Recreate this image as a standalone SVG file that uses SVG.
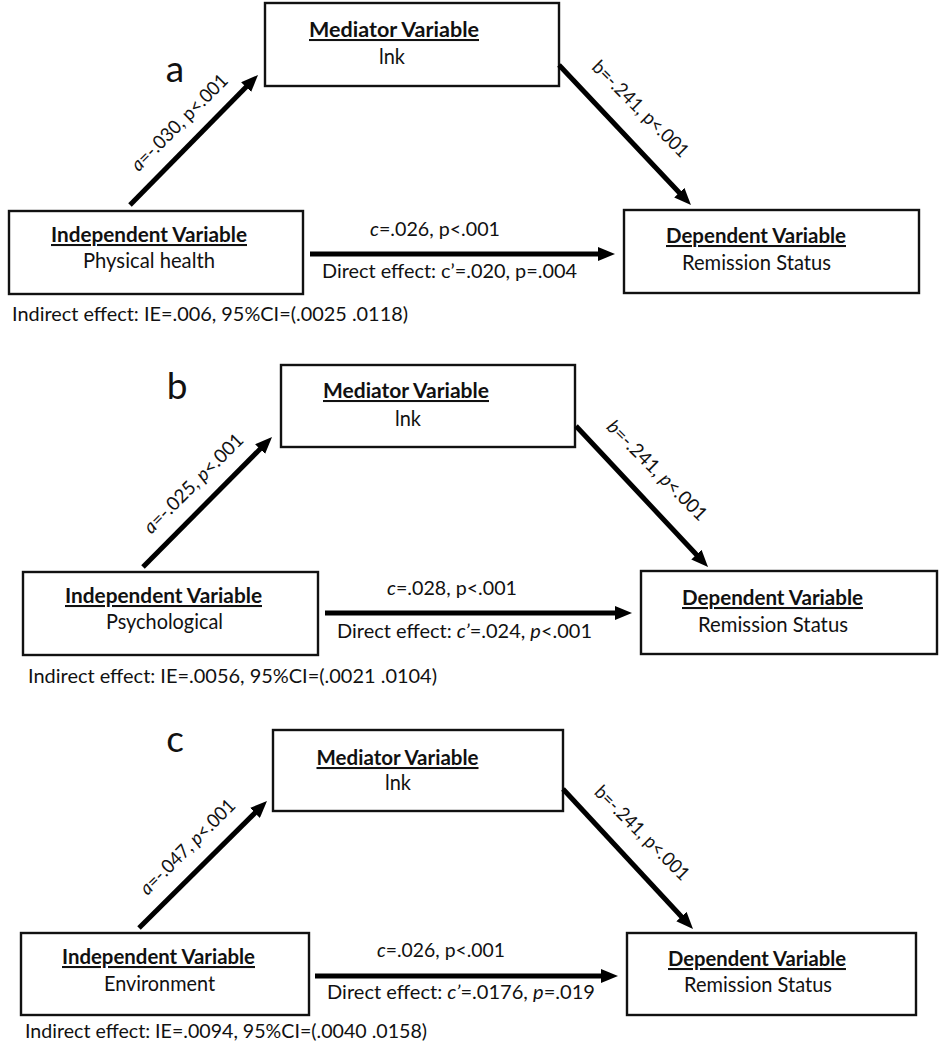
<svg xmlns="http://www.w3.org/2000/svg" width="943" height="1050" viewBox="0 0 943 1050">
<style>
text{font-family:Lato,"Liberation Sans",sans-serif;fill:#111}
.box{fill:#fff;stroke:#111;stroke-width:2.4}
.hd{font-weight:bold;text-decoration:underline;font-size:20.5px}
.nm{font-size:20.5px}
.ed{font-size:19px}
.pn{font-size:37px}
.it{font-style:italic}
.ar{stroke:#000;stroke-width:5;fill:none;marker-end:url(#ah)}
</style>
<defs>
<marker id="ah" markerUnits="userSpaceOnUse" markerWidth="18" markerHeight="14" refX="7" refY="7" orient="auto"><path d="M0,0 L17,7 L0,14 z" fill="#000"/></marker>
</defs>
<rect width="943" height="1050" fill="#fff"/>

<!-- Panel a -->
<g id="panel-a">
<text class="pn" x="175" y="82" text-anchor="middle">a</text>
<g id="a-mediator"><rect class="box" x="265" y="3" width="294" height="83"/>
<text class="hd" x="394" y="37" text-anchor="middle" textLength="170" lengthAdjust="spacingAndGlyphs">Mediator Variable</text>
<text class="nm" x="392" y="64" text-anchor="middle" textLength="26" lengthAdjust="spacingAndGlyphs">lnk</text></g>
<g id="a-independent"><rect class="box" x="9" y="211" width="294" height="83"/>
<text class="hd" x="149" y="242" text-anchor="middle" textLength="196" lengthAdjust="spacingAndGlyphs">Independent Variable</text>
<text class="nm" x="149" y="268" text-anchor="middle" textLength="132" lengthAdjust="spacingAndGlyphs">Physical health</text></g>
<g id="a-dependent"><rect class="box" x="624" y="210" width="295" height="83"/>
<text class="hd" x="756" y="243" text-anchor="middle" textLength="180" lengthAdjust="spacingAndGlyphs">Dependent Variable</text>
<text class="nm" x="756.5" y="270" text-anchor="middle" textLength="149" lengthAdjust="spacingAndGlyphs">Remission Status</text></g>
<text class="ed" x="12" y="321" textLength="396" lengthAdjust="spacingAndGlyphs">Indirect effect: IE=.006, 95%CI=(.0025 .0118)</text>
</g>

<!-- Panel b -->
<g id="panel-b">
<text class="pn" x="177" y="399" text-anchor="middle">b</text>
<g id="b-mediator"><rect class="box" x="281" y="365" width="294" height="82"/>
<text class="hd" x="406" y="398" text-anchor="middle" textLength="166" lengthAdjust="spacingAndGlyphs">Mediator Variable</text>
<text class="nm" x="408" y="426" text-anchor="middle" textLength="26" lengthAdjust="spacingAndGlyphs">lnk</text></g>
<g id="b-independent"><rect class="box" x="23" y="572" width="295" height="83"/>
<text class="hd" x="163.5" y="603" text-anchor="middle" textLength="197" lengthAdjust="spacingAndGlyphs">Independent Variable</text>
<text class="nm" x="164.5" y="629" text-anchor="middle" textLength="117" lengthAdjust="spacingAndGlyphs">Psychological</text></g>
<g id="b-dependent"><rect class="box" x="641" y="571" width="296" height="83"/>
<text class="hd" x="772.5" y="605" text-anchor="middle" textLength="181" lengthAdjust="spacingAndGlyphs">Dependent Variable</text>
<text class="nm" x="773" y="632" text-anchor="middle" textLength="150" lengthAdjust="spacingAndGlyphs">Remission Status</text></g>
<text class="ed" x="28" y="683" textLength="409" lengthAdjust="spacingAndGlyphs">Indirect effect: IE=.0056, 95%CI=(.0021 .0104)</text>
</g>

<!-- Panel c -->
<g id="panel-c">
<text class="pn" x="175" y="752" text-anchor="middle">c</text>
<g id="c-mediator"><rect class="box" x="273" y="730" width="290" height="81"/>
<text class="hd" x="397.5" y="765" text-anchor="middle" textLength="162" lengthAdjust="spacingAndGlyphs">Mediator Variable</text>
<text class="nm" x="398" y="790" text-anchor="middle" textLength="26" lengthAdjust="spacingAndGlyphs">lnk</text></g>
<g id="c-independent"><rect class="box" x="21" y="933" width="288" height="82"/>
<text class="hd" x="158.5" y="964" text-anchor="middle" textLength="193" lengthAdjust="spacingAndGlyphs">Independent Variable</text>
<text class="nm" x="159.5" y="991" text-anchor="middle" textLength="111" lengthAdjust="spacingAndGlyphs">Environment</text></g>
<g id="c-dependent"><rect class="box" x="627" y="933" width="289" height="82"/>
<text class="hd" x="757" y="966" text-anchor="middle" textLength="178" lengthAdjust="spacingAndGlyphs">Dependent Variable</text>
<text class="nm" x="758" y="992" text-anchor="middle" textLength="148" lengthAdjust="spacingAndGlyphs">Remission Status</text></g>
<text class="ed" x="25" y="1038" textLength="402" lengthAdjust="spacingAndGlyphs">Indirect effect: IE=.0094, 95%CI=(.0040 .0158)</text>
</g>

<!-- Connectors -->
<g id="connectors">
<line class="ar" x1="130" y1="205" x2="251" y2="82.1"/>
<line class="ar" x1="559" y1="65" x2="684.1" y2="197.7"/>
<line class="ar" x1="310" y1="254" x2="605" y2="254"/>
<line class="ar" x1="143" y1="567" x2="265" y2="444.1"/>
<line class="ar" x1="576" y1="426" x2="701.2" y2="559.7"/>
<line class="ar" x1="325" y1="613" x2="622" y2="613"/>
<line class="ar" x1="139" y1="928" x2="259.9" y2="808"/>
<line class="ar" x1="563" y1="789" x2="686.2" y2="921.7"/>
<line class="ar" x1="315" y1="976" x2="608" y2="976"/>

<text class="ed" transform="translate(184,127) rotate(-45)" text-anchor="middle" textLength="128" lengthAdjust="spacingAndGlyphs"><tspan class="it">a</tspan>=-.030, p&lt;.001</text>
<text class="ed" transform="translate(636,113.5) rotate(45)" text-anchor="middle" textLength="128" lengthAdjust="spacingAndGlyphs">b=-.241, p&lt;.001</text>
<text class="ed" x="435" y="236" text-anchor="middle" textLength="130" lengthAdjust="spacingAndGlyphs"><tspan class="it">c</tspan>=.026, p&lt;.001</text>
<text class="ed" x="449.5" y="278" text-anchor="middle" textLength="255" lengthAdjust="spacingAndGlyphs">Direct effect: c’=.020, p=.004</text>

<text class="ed" transform="translate(198,488) rotate(-45)" text-anchor="middle" textLength="132" lengthAdjust="spacingAndGlyphs"><tspan class="it">a</tspan>=-.025, <tspan class="it">p</tspan>&lt;.001</text>
<text class="ed" transform="translate(652.5,475) rotate(45)" text-anchor="middle" textLength="133" lengthAdjust="spacingAndGlyphs"><tspan class="it">b</tspan>=-.241, <tspan class="it">p</tspan>&lt;.001</text>
<text class="ed" x="452" y="595" text-anchor="middle" textLength="130" lengthAdjust="spacingAndGlyphs"><tspan class="it">c</tspan>=.028, p&lt;.001</text>
<text class="ed" x="464.5" y="638" text-anchor="middle" textLength="255" lengthAdjust="spacingAndGlyphs">Direct effect: <tspan class="it">c’</tspan>=.024, <tspan class="it">p</tspan>&lt;.001</text>

<text class="ed" transform="translate(192,851.5) rotate(-45)" text-anchor="middle" textLength="126" lengthAdjust="spacingAndGlyphs"><tspan class="it">a</tspan>=-.047, <tspan class="it">p</tspan>&lt;.001</text>
<text class="ed" transform="translate(637.5,837.5) rotate(45)" text-anchor="middle" textLength="125" lengthAdjust="spacingAndGlyphs">b=-.241, p&lt;.001</text>
<text class="ed" x="441" y="957" text-anchor="middle" textLength="128" lengthAdjust="spacingAndGlyphs"><tspan class="it">c</tspan>=.026, p&lt;.001</text>
<text class="ed" x="461" y="999" text-anchor="middle" textLength="268" lengthAdjust="spacingAndGlyphs">Direct effect: <tspan class="it">c’</tspan>=.0176, <tspan class="it">p</tspan>=.019</text>
</g>
</svg>
